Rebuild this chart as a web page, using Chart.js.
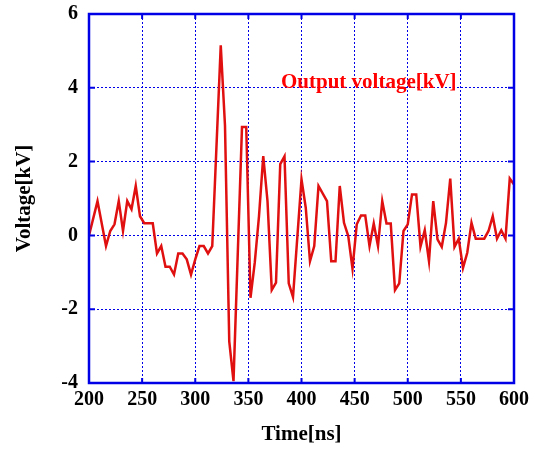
<!DOCTYPE html>
<html>
<head>
<meta charset="utf-8">
<script src="https://cdn.jsdelivr.net/npm/chart.js@4/dist/chart.umd.min.js"></script>
<style>
    html, body { margin: 0; padding: 0; background: #fff; }
    #wrap { width: 536px; height: 450px; }
</style>
</head>
<body>
<div id="wrap"><canvas id="voltageChart"></canvas></div>
<script>
// ============================================
// Data
// ============================================
const times = [
    200, 208, 216, 220, 224, 228, 232, 236, 240, 244, 248, 252, 260, 264, 268, 272,
    276, 280, 284, 288, 292, 296, 300, 304, 308, 312, 316, 324, 328, 332, 336, 344,
    348, 352, 356, 360, 364, 368, 372, 376, 380, 384, 388, 392, 400, 404, 408, 412,
    416, 424, 428, 432, 436, 440, 444, 448, 452, 456, 460, 464, 468, 472, 476, 480,
    484, 488, 492, 496, 500, 504, 508, 512, 516, 520, 524, 528, 532, 536, 540, 544,
    548, 552, 556, 560, 564, 568, 572, 576, 580, 584, 588, 592, 596, 600
];
const voltages = [
    0.00, 0.93, -0.29, 0.12, 0.30, 0.93, 0.12, 0.93, 0.71, 1.34, 0.52, 0.33, 0.33, -0.49, -0.29, -0.85,
    -0.85, -1.06, -0.49, -0.49, -0.65, -1.06, -0.65, -0.29, -0.29, -0.49, -0.29, 5.15, 2.97, -2.87, -3.95, 2.94,
    2.94, -1.69, -0.74, 0.52, 2.15, 0.93, -1.48, -1.28, 1.93, 2.14, -1.30, -1.67, 1.52, 0.75, -0.70, -0.29,
    1.34, 0.93, -0.70, -0.70, 1.34, 0.34, -0.02, -0.90, 0.30, 0.54, 0.54, -0.29, 0.32, -0.29, 0.93, 0.32,
    0.32, -1.48, -1.30, 0.12, 0.30, 1.11, 1.11, -0.30, 0.14, -0.70, 0.93, -0.11, -0.31, 0.34, 1.54, -0.31,
    -0.09, -0.88, -0.47, 0.34, -0.09, -0.09, -0.09, 0.12, 0.52, -0.09, 0.14, -0.09, 1.54, 1.38
];
const xTickValues = [200, 250, 300, 350, 400, 450, 500, 550, 600];
const yTickValues = [-4, -2, 0, 2, 4, 6];
const seriesLabel = 'Output voltage[kV]';

const BLUE = '#0000e6';
const RED = '#e01010';
const FONT = "'Liberation Serif', 'Times New Roman', serif";

// ============================================
// Frame, inner ticks and in-plot label
// ============================================
const framePlugin = {
    id: 'frame',
    afterDatasetsDraw(chart) {
        const { ctx, chartArea: a, scales } = chart;
        ctx.save();
        ctx.strokeStyle = BLUE;
        ctx.lineWidth = 2;
        ctx.setLineDash([]);
        ctx.beginPath();
        xTickValues.forEach(v => {
            const x = scales.x.getPixelForValue(v);
            ctx.moveTo(x, a.bottom); ctx.lineTo(x, a.bottom - 5);
            ctx.moveTo(x, a.top); ctx.lineTo(x, a.top + 5);
        });
        yTickValues.forEach(v => {
            const y = scales.y.getPixelForValue(v);
            ctx.moveTo(a.left, y); ctx.lineTo(a.left + 6, y);
            ctx.moveTo(a.right, y); ctx.lineTo(a.right - 6, y);
        });
        ctx.stroke();
        ctx.lineWidth = 2.5;
        ctx.strokeRect(a.left, a.top, a.right - a.left, a.bottom - a.top);

        ctx.fillStyle = '#ff0000';
        ctx.font = 'bold 21px ' + FONT;
        ctx.textAlign = 'left';
        ctx.textBaseline = 'alphabetic';
        ctx.fillText(seriesLabel, 281, 88);
        ctx.restore();
    }
};

new Chart(document.getElementById('voltageChart'), {
    type: 'line',
    data: {
        datasets: [{
            label: seriesLabel,
            data: times.map((t, i) => ({ x: t, y: voltages[i] })),
            borderColor: RED,
            borderWidth: 2.5,
            pointRadius: 0,
            fill: false,
            tension: 0
        }]
    },
    plugins: [framePlugin],
    options: {
        responsive: true,
        maintainAspectRatio: false,
        animation: false,
        layout: { padding: { top: 14, right: 22, left: 0, bottom: 0 } },
        plugins: {
            legend: { display: false },
            tooltip: { enabled: false }
        },
        scales: {
            x: {
                type: 'linear',
                min: 200,
                max: 600,
                afterBuildTicks: (s) => { s.ticks = xTickValues.map(v => ({ value: v })); },
                afterFit: (s) => { s.height = 67; s.paddingLeft = 0; s.paddingRight = 0; },
                border: { display: false, dash: [2, 2] },
                grid: { color: BLUE, lineWidth: 1, drawTicks: false },
                ticks: {
                    color: '#000',
                    padding: 5,
                    maxRotation: 0,
                    font: { family: FONT, size: 20, weight: 'bold' }
                },
                title: {
                    display: true,
                    text: 'Time[ns]',
                    color: '#000',
                    padding: { top: 6, bottom: 3 },
                    font: { family: FONT, size: 21, weight: 'bold' }
                }
            },
            y: {
                min: -4,
                max: 6,
                afterBuildTicks: (s) => { s.ticks = yTickValues.map(v => ({ value: v })); },
                afterFit: (s) => { s.width = 89; s.paddingTop = 0; s.paddingBottom = 0; },
                border: { display: false, dash: [2, 2] },
                grid: { color: BLUE, lineWidth: 1, drawTicks: false },
                ticks: {
                    color: '#000',
                    padding: 11,
                    font: { family: FONT, size: 20, weight: 'bold' }
                },
                title: {
                    display: true,
                    text: 'Voltage[kV]',
                    color: '#000',
                    padding: { top: 12, bottom: 0 },
                    font: { family: FONT, size: 21, weight: 'bold' }
                }
            }
        }
    }
});
</script>
</body>
</html>
